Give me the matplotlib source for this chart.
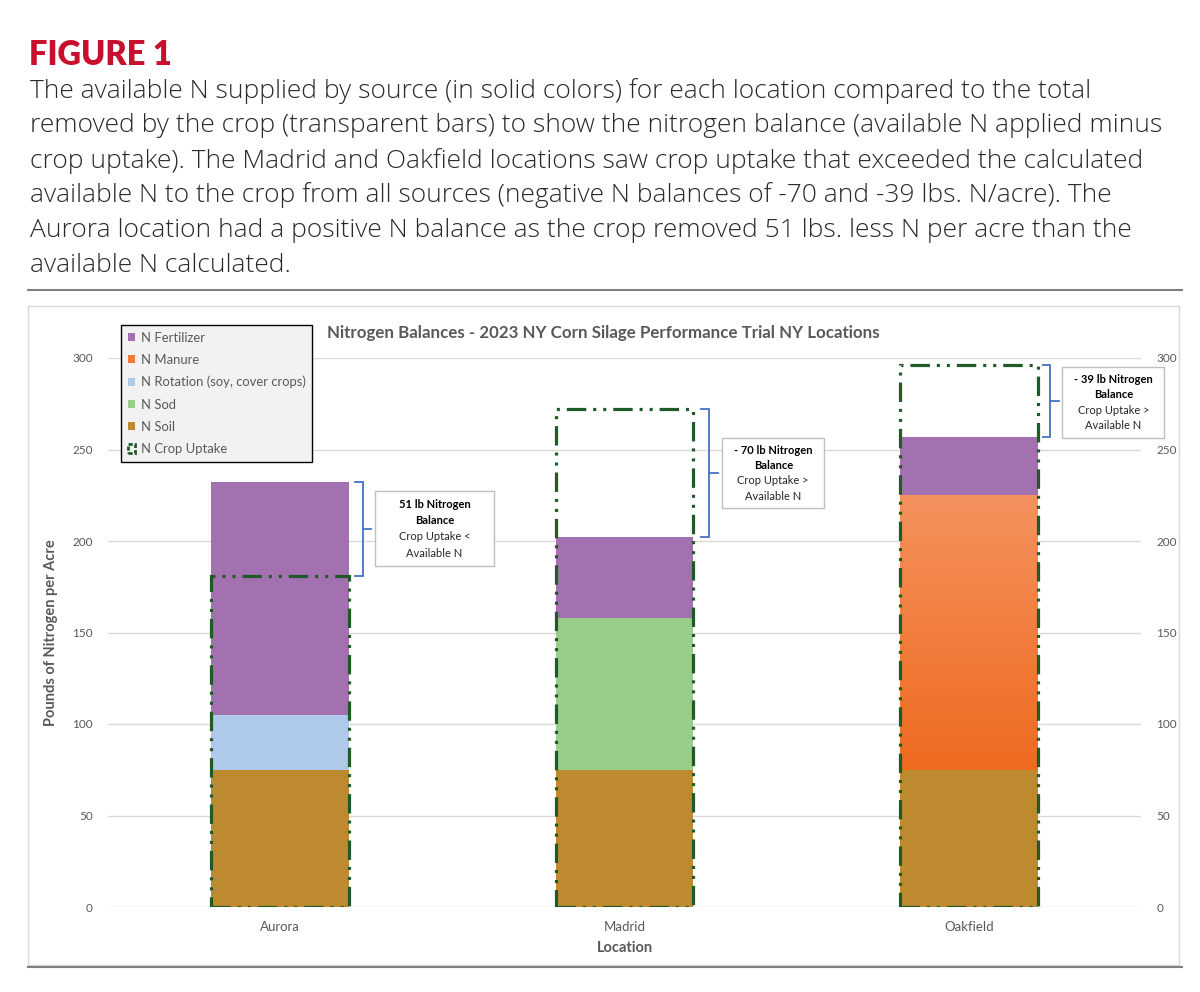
import matplotlib
matplotlib.use("Agg")
import matplotlib.pyplot as plt
import numpy as np
from matplotlib.patches import Rectangle, Patch
from matplotlib.lines import Line2D
from matplotlib.colors import LinearSegmentedColormap

plt.rcParams['font.family'] = ['Lato', 'DejaVu Sans']
plt.rcParams['lines.scale_dashes'] = False

# ---------------- data ----------------
locations = ["Aurora", "Madrid", "Oakfield"]
n_soil = [75, 75, 75]
n_sod = [0, 83, 0]
n_rotation = [30, 0, 0]
n_manure = [0, 0, 150]
n_fertilizer = [127, 44, 32]
n_uptake = [181, 272, 296]
balances = [51, -70, -39]

series_names = ["N Soil", "N Sod", "N Rotation (soy, cover crops)", "N Manure", "N Fertilizer"]
series_values = [n_soil, n_sod, n_rotation, n_manure, n_fertilizer]
series_colors = ["#BE8A2F", "#98CD8A", "#AEC9E9", "#F07A36", "#A371AF"]
yticks = [0, 50, 100, 150, 200, 250, 300]

uptake_color = "#1F5A28"
bracket_color = "#4472C4"
text_gray = "#595959"

fig = plt.figure(figsize=(12, 9.92), dpi=100)
W, H = 1200, 992

def fx(px):
    return px / W

def fy(py):
    return 1 - py / H

# ---------------- header ----------------
fig.text(fx(29), fy(55), "FIGURE 1", color="#C8102E", fontsize=23.5, fontweight="heavy",
         va="center", ha="left")
para = [
    "The available N supplied by source (in solid colors) for each location compared to the total",
    "removed by the crop (transparent bars) to show the nitrogen balance (available N applied minus",
    "crop uptake). The Madrid and Oakfield locations saw crop uptake that exceeded the calculated",
    "available N to the crop from all sources (negative N balances of -70 and -39 lbs. N/acre). The",
    "Aurora location had a positive N balance as the crop removed 51 lbs. less N per acre than the",
    "available N calculated.",
]
for i, line in enumerate(para):
    fig.text(fx(30), fy(91 + i * 34.8), line, color="#2a2a2a", fontsize=19.0,
             family=["Open Sans", "DejaVu Sans"], fontweight="light", va="center", ha="left")

# rules
fig.add_artist(Line2D([fx(28), fx(1182)], [fy(290), fy(290)], color="#808080", lw=1.5))
fig.add_artist(Line2D([fx(28), fx(1182)], [fy(967), fy(967)], color="#808080", lw=1.5))
# chart frame
fig.add_artist(Rectangle((fx(28), fy(965)), fx(1179 - 28), (965 - 306) / H,
                         fill=False, edgecolor="#D9D9D9", lw=1))

# ---------------- chart ----------------
ax = fig.add_axes([fx(108), fy(907), fx(1141 - 108), (907 - 358) / H])
x = np.arange(len(locations))
bw = 0.4
bottom = np.zeros(len(locations))
bars_by_series = {}
for name, vals, col in zip(series_names, series_values, series_colors):
    bars = ax.bar(x, vals, bw, bottom=bottom, color=col, zorder=2, label=name)
    bars_by_series[name] = bars
    bottom += np.array(vals)
totals = bottom.copy()

# gradient on manure bars
cmap = LinearSegmentedColormap.from_list("manure", ["#EE6A1F", "#F5925E"])
for rect in bars_by_series["N Manure"]:
    h = rect.get_height()
    if h <= 0:
        continue
    x0, y0, w = rect.get_x(), rect.get_y(), rect.get_width()
    grad = np.linspace(0, 1, 256).reshape(-1, 1)
    im = ax.imshow(grad, cmap=cmap, origin="lower", aspect="auto",
                   extent=(x0, x0 + w, y0, y0 + h), zorder=2.1)
    im.set_clip_path(rect)

# uptake outlines
ax.bar(x, n_uptake, bw, fill=False, edgecolor=uptake_color, linewidth=2.3,
       linestyle=(0, (14, 5, 2.2, 5, 2.2, 5)), zorder=3, label="N Crop Uptake")

ax.set_xlim(-0.5, 2.5)
ax.set_ylim(0, 300)
ax.set_yticks(yticks)
ax.grid(axis="y", color="#D9D9D9", lw=1, zorder=0)
ax.set_axisbelow(True)
for s in ax.spines.values():
    s.set_visible(False)
ax.tick_params(axis="y", length=0, labelsize=8.5, labelcolor=text_gray, pad=11,
               right=False, labelright=True)
ax.tick_params(axis="x", length=0, labelsize=9.5, labelcolor=text_gray, pad=10)
ax.set_xticks(x)
ax.set_xticklabels(locations)
ax.set_xlabel("Location", fontsize=10.5, fontweight="bold", color=text_gray, labelpad=6)
ax.set_ylabel("Pounds of Nitrogen per Acre", fontsize=10.5, fontweight="bold",
              color=text_gray, labelpad=10)

fig.text(fx(603), fy(333), "Nitrogen Balances - 2023 NY Corn Silage Performance Trial NY Locations",
         fontsize=12.2, fontweight="bold", color=text_gray, ha="center", va="center")

# legend
leg_handles = [
    Patch(facecolor=series_colors[4]),
    Patch(facecolor=series_colors[3]),
    Patch(facecolor=series_colors[2]),
    Patch(facecolor=series_colors[1]),
    Patch(facecolor=series_colors[0]),
    Patch(facecolor="none", edgecolor=uptake_color, linewidth=2, linestyle=(0, (3, 1.5))),
]
leg_labels = ["N Fertilizer", "N Manure", "N Rotation (soy, cover crops)", "N Sod", "N Soil",
              "N Crop Uptake"]
leg = fig.legend(leg_handles, leg_labels, loc="upper left",
                 bbox_to_anchor=(fx(121), fy(325)), frameon=True, fancybox=False,
                 facecolor="#F2F2F2", edgecolor="black", fontsize=9.4, labelcolor=text_gray,
                 handlelength=0.6, handleheight=0.6, handletextpad=0.4,
                 labelspacing=0.78, borderpad=0.5, borderaxespad=0)
leg.get_frame().set_linewidth(1)
leg.get_frame().set_alpha(1)

# brackets + annotation boxes
bracket_dx = [(0.217, 0.240), (0.223, 0.246), (0.214, 0.237)]
box_centers = [(0.448, 206.8), (0.432, 237.0), (0.420, 275.7)]
box_sizes = [(0.348, 41.0), (0.296, 38.3), (0.296, 38.8)]
for i in range(len(locations)):
    lo, hi = sorted([totals[i], n_uptake[i]])
    a, b = bracket_dx[i]
    xa, xb = x[i] + a, x[i] + b
    mid = (lo + hi) / 2
    ax.plot([xa, xb, xb, xa], [hi, hi, lo, lo], color=bracket_color, lw=1.3,
            clip_on=False, zorder=4, solid_joinstyle="miter")
    ax.plot([xb, xb + 0.025], [mid, mid], color=bracket_color, lw=1.3, clip_on=False, zorder=4)

    cx, cy = box_centers[i]
    bwid, bh = box_sizes[i]
    ax.add_patch(Rectangle((x[i] + cx - bwid / 2, cy - bh / 2), bwid, bh, facecolor="white",
                           edgecolor="#BFBFBF", lw=1, clip_on=False, zorder=4))
    bal = balances[i]
    head = f"{bal} lb Nitrogen" if bal > 0 else f"- {abs(bal)} lb Nitrogen"
    cmp_sign = "<" if bal > 0 else ">"
    lines = [(head, "bold"), ("Balance", "bold"), (f"Crop Uptake {cmp_sign}", "normal"),
             ("Available N", "normal")]
    step = bh / 4.6
    for j, (t, wgt) in enumerate(lines):
        ax.text(x[i] + cx, cy + 1.5 * step - j * step, t, ha="center", va="center",
                fontsize=8, fontweight=wgt, color="black" if wgt == "bold" else "#262626",
                zorder=5, clip_on=False)

fig.savefig("out.png", dpi=100, facecolor="white")
